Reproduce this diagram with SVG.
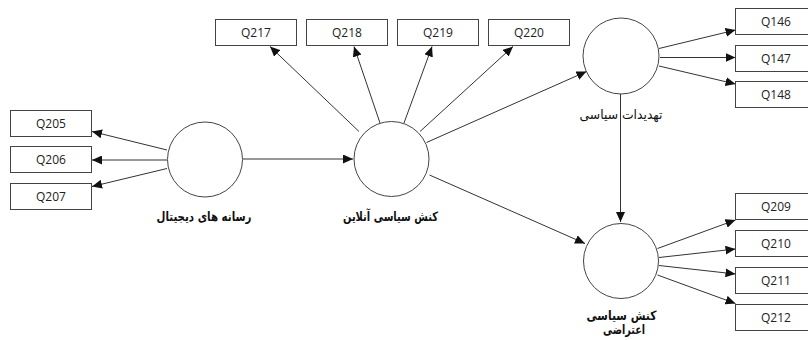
<svg xmlns="http://www.w3.org/2000/svg" width="808" height="340" viewBox="0 0 808 340">
<defs>
<marker id="ah" markerUnits="userSpaceOnUse" markerWidth="11" markerHeight="9" refX="10" refY="4.5" orient="auto">
<path d="M0,0 L10,4.5 L0,9 z" fill="#111"/>
</marker>
<style>
.box{fill:#fff;stroke:#444;stroke-width:1}
.lv{fill:#fff;stroke:#444;stroke-width:1}
.q{font-family:"Open Sans","Noto Sans",sans-serif;font-size:12px;fill:#222;text-anchor:middle}
.fa{font-family:"DejaVu Sans",sans-serif;font-size:13px;font-weight:bold;fill:#111;text-anchor:middle}
.fn{font-family:"DejaVu Sans",sans-serif;font-size:13px;fill:#111;text-anchor:middle}
.c line{stroke:#333;stroke-width:1;marker-end:url(#ah)}
</style>
</defs>
<rect width="808" height="340" fill="#fff"/>
<g id="connectors" class="c">
<line x1="167" y1="150" x2="92" y2="131.5"/>
<line x1="167" y1="160" x2="92" y2="160"/>
<line x1="167" y1="168.5" x2="92" y2="186.5"/>
<line x1="243" y1="159" x2="353" y2="159"/>
<line x1="359" y1="131.5" x2="270" y2="46.5"/>
<line x1="380" y1="123" x2="354" y2="46.5"/>
<line x1="404" y1="123" x2="432" y2="46.5"/>
<line x1="420" y1="131.5" x2="513" y2="46.5"/>
<line x1="426.5" y1="142.5" x2="586.5" y2="71.5"/>
<line x1="429.5" y1="175" x2="585" y2="243.5"/>
<line x1="620.5" y1="94" x2="620.5" y2="222"/>
<line x1="659" y1="48.5" x2="735.5" y2="30"/>
<line x1="660" y1="57.5" x2="735.5" y2="57.5"/>
<line x1="659" y1="66" x2="735.5" y2="84"/>
<line x1="657.5" y1="248.5" x2="735.5" y2="220"/>
<line x1="659" y1="257.5" x2="735.5" y2="249"/>
<line x1="659" y1="265.5" x2="735.5" y2="274"/>
<line x1="657.5" y1="275" x2="735.5" y2="303.5"/>
</g>
<g id="n-q205"><rect class="box" x="10.5" y="110.5" width="81" height="26"/><text class="q" x="51" y="128">Q205</text></g>
<g id="n-q206"><rect class="box" x="10.5" y="146.5" width="81" height="26"/><text class="q" x="51" y="164">Q206</text></g>
<g id="n-q207"><rect class="box" x="10.5" y="183.5" width="81" height="26"/><text class="q" x="51" y="201">Q207</text></g>
<g id="n-q217"><rect class="box" x="215.5" y="19.5" width="81" height="26"/><text class="q" x="256" y="37">Q217</text></g>
<g id="n-q218"><rect class="box" x="306.5" y="19.5" width="81" height="26"/><text class="q" x="347" y="37">Q218</text></g>
<g id="n-q219"><rect class="box" x="397.5" y="19.5" width="81" height="26"/><text class="q" x="438" y="37">Q219</text></g>
<g id="n-q220"><rect class="box" x="488.5" y="19.5" width="81" height="26"/><text class="q" x="529" y="37">Q220</text></g>
<g id="n-q146"><rect class="box" x="735.5" y="8.5" width="81" height="26"/><text class="q" x="776" y="26">Q146</text></g>
<g id="n-q147"><rect class="box" x="735.5" y="45.5" width="81" height="26"/><text class="q" x="776" y="63">Q147</text></g>
<g id="n-q148"><rect class="box" x="735.5" y="81.5" width="81" height="26"/><text class="q" x="776" y="99">Q148</text></g>
<g id="n-q209"><rect class="box" x="735.5" y="193.5" width="81" height="26"/><text class="q" x="776" y="211">Q209</text></g>
<g id="n-q210"><rect class="box" x="735.5" y="230.5" width="81" height="26"/><text class="q" x="776" y="248">Q210</text></g>
<g id="n-q211"><rect class="box" x="735.5" y="267.5" width="81" height="26"/><text class="q" x="776" y="285">Q211</text></g>
<g id="n-q212"><rect class="box" x="735.5" y="304.5" width="81" height="26"/><text class="q" x="776" y="322">Q212</text></g>
<g id="n-digital"><circle class="lv" cx="205" cy="159.5" r="37.5"/><text class="fa" x="204" y="221" textLength="95" lengthAdjust="spacingAndGlyphs">رسانه های دیجیتال</text></g>
<g id="n-online"><circle class="lv" cx="391.5" cy="159" r="37.5"/><text class="fa" x="390.5" y="221" textLength="95" lengthAdjust="spacingAndGlyphs">کنش سیاسی آنلاین</text></g>
<g id="n-threat"><circle class="lv" cx="621" cy="56" r="38"/><text class="fn" x="621" y="119" textLength="83" lengthAdjust="spacingAndGlyphs">تهدیدات سیاسی</text></g>
<g id="n-protest"><circle class="lv" cx="621" cy="261" r="37.5"/><text class="fa" x="621.5" y="320" textLength="70" lengthAdjust="spacingAndGlyphs">کنش سیاسی</text><text class="fa" x="624" y="334" textLength="42" lengthAdjust="spacingAndGlyphs">اعتراضی</text></g>
</svg>
